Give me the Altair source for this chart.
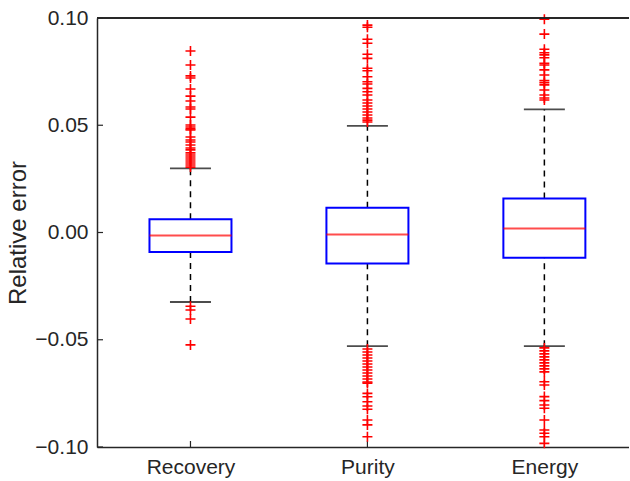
import altair as alt
import pandas as pd

categories = ["Recovery", "Purity", "Energy"]
q1 = [-0.0091, -0.0144, -0.0118]
medians = [-0.0014, -0.0009, 0.0019]
q3 = [0.0062, 0.0115, 0.0159]
whisk_lo = [-0.0324, -0.0530, -0.0530]
whisk_hi = [0.0299, 0.0497, 0.0574]

out_recovery = [0.0846, 0.0781, 0.0730, 0.0720, 0.0669, 0.0636, 0.0613, 0.0585, 0.0576,
                0.0538, 0.0501, 0.0492, 0.0483, 0.0478, 0.0445, 0.0431, 0.0422, 0.0408,
                0.0394, 0.0385, 0.0371, 0.0361, 0.0352, 0.0343, 0.0333, 0.0324, 0.0315,
                0.0305, -0.0344, -0.0361, -0.0403, -0.0524]
out_purity = [0.0967, 0.0957, 0.0901, 0.0882, 0.0831, 0.0812, 0.0766, 0.0754, 0.0726,
              0.0703, 0.0692, 0.0672, 0.0656, 0.0641, 0.0618, 0.0604, 0.0590, 0.0576,
              0.0562, 0.0548, 0.0534, 0.0524, 0.0515,
              -0.0543, -0.0557, -0.0571, -0.0585, -0.0599, -0.0613, -0.0627, -0.0641,
              -0.0655, -0.0669, -0.0683, -0.0697, -0.0702, -0.0750, -0.0766, -0.0789,
              -0.0809, -0.0824, -0.0874, -0.0897, -0.0952]
out_energy = [0.0994, 0.0925, 0.0854, 0.0838, 0.0828, 0.0815, 0.0789, 0.0781, 0.0758,
              0.0734, 0.0708, 0.0698, 0.0688, 0.0664, 0.0641, 0.0627, 0.0618,
              -0.0538, -0.0552, -0.0566, -0.0580, -0.0594, -0.0608, -0.0622, -0.0636,
              -0.0650, -0.0696, -0.0711, -0.0765, -0.0784, -0.0804, -0.0819, -0.0874,
              -0.0921, -0.0936, -0.0952, -0.0983]
y_ticks = [-0.10, -0.05, 0.0, 0.05, 0.10]

W, H = 532, 429
AX = "#262626"
FONT = "Liberation Sans"

stats = pd.DataFrame({
    "idx": [1, 2, 3],
    "cat": categories,
    "q1": q1, "med": medians, "q3": q3, "lo": whisk_lo, "hi": whisk_hi,
})
outs = pd.DataFrame(
    [{"idx": 1, "v": v} for v in out_recovery]
    + [{"idx": 2, "v": v} for v in out_purity]
    + [{"idx": 3, "v": v} for v in out_energy]
)
yt = pd.DataFrame({"v": y_ticks})

label_expr = "[" + ",".join("'%s'" % c for c in categories) + "][datum.value - 1]"

xscale = alt.Scale(domain=[0.5, 3.45], nice=False, zero=False)
yscale = alt.Scale(domain=[-0.1, 0.1], nice=False, zero=False)

x_enc = alt.X("idx:Q", scale=xscale, axis=alt.Axis(
    values=[1, 2, 3], labelExpr=label_expr, ticks=False, grid=False, title=None,
    domainColor=AX, domainWidth=1.5, labelColor=AX, labelFontSize=21, labelFont=FONT,
    labelPadding=9))
y_axis = alt.Axis(values=y_ticks, format=".2f", ticks=False, grid=False,
                  title="Relative error", titleFontSize=24, titleFont=FONT,
                  titleFontWeight="normal", titleColor=AX, titlePadding=4,
                  domainColor=AX, domainWidth=1.5, labelColor=AX, labelFontSize=21,
                  labelFont=FONT, labelPadding=9)

base = alt.Chart(stats)

wl = base.mark_rule(color="black", strokeDash=[6, 5], strokeWidth=1.5).encode(
    x=x_enc, y=alt.Y("lo:Q", scale=yscale, axis=y_axis), y2="q1:Q")
wh = base.mark_rule(color="black", strokeDash=[6, 5], strokeWidth=1.5).encode(
    x="idx:Q", y="q3:Q", y2="hi:Q")
box = base.mark_bar(size=82, fill="white", stroke="#0000FF", strokeWidth=2).encode(
    x="idx:Q", y="q1:Q", y2="q3:Q")
med = base.mark_tick(orient="horizontal", size=82, thickness=2, color="#FF0000").encode(
    x="idx:Q", y="med:Q")
cap_lo = base.mark_tick(orient="horizontal", size=41, thickness=1.8, color="black").encode(
    x="idx:Q", y="lo:Q")
cap_hi = base.mark_tick(orient="horizontal", size=41, thickness=1.8, color="black").encode(
    x="idx:Q", y="hi:Q")
pts = alt.Chart(outs).mark_point(
    shape="M-1,0L1,0M0,-1L0,1", size=100, filled=False, color="#FF0000",
    strokeWidth=1.6, opacity=1).encode(x="idx:Q", y="v:Q")
top = alt.Chart(stats).mark_rule(color=AX, strokeWidth=1.5).encode(y=alt.datum(0.1))
yticks = alt.Chart(yt).mark_rule(color=AX, strokeWidth=1.2).encode(
    y="v:Q", x=alt.value(0), x2=alt.value(6))
xticks = base.mark_rule(color=AX, strokeWidth=1.2).encode(
    x="idx:Q", y=alt.value(H), y2=alt.value(H - 6))

chart = alt.layer(wl, wh, box, med, cap_lo, cap_hi, xticks, pts, top, yticks).properties(
    width=W, height=H,
    autosize=alt.AutoSizeParams(type="none"),
    padding={"left": 97, "top": 18, "right": 0, "bottom": 34},
).configure_view(stroke=None).configure(background="white")

chart.save("out.html", embed_options={"renderer": "svg", "actions": False})
